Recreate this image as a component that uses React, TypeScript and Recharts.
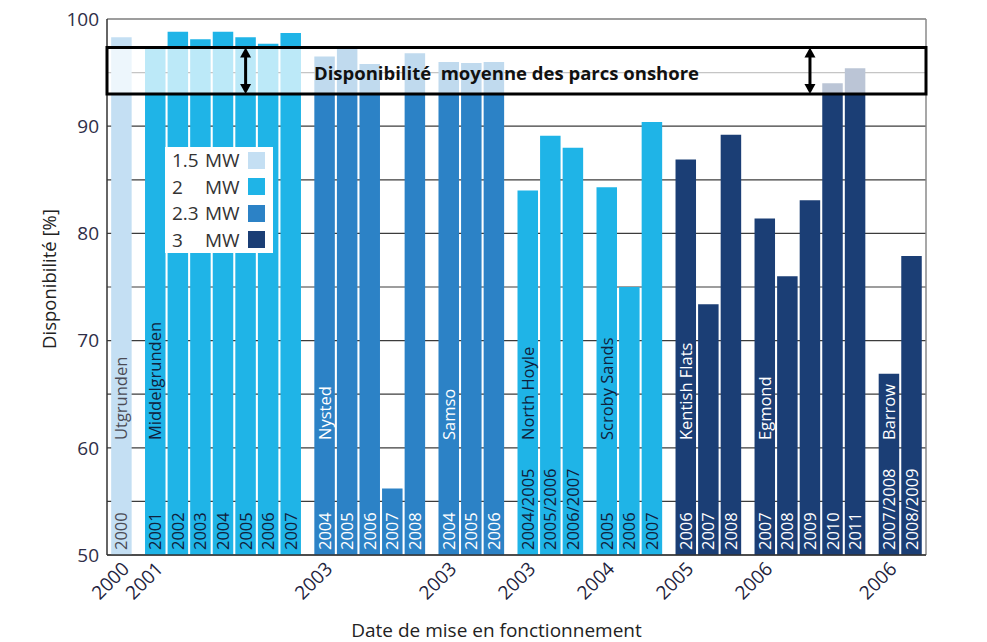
import {
  BarChart,
  Bar,
  XAxis,
  YAxis,
  CartesianGrid,
  Cell,
  LabelList,
  Legend,
  ReferenceArea,
  ReferenceLine,
} from 'recharts';

const FONT = '"Open Sans", "Noto Sans", sans-serif';

// offshore parks, in the order they are drawn
const parks = [
  'Utgrunden',
  'Middelgrunden',
  'Nysted',
  'Samso',
  'North Hoyle',
  'Scroby Sands',
  'Kentish Flats',
  'Egmond',
  'Barrow',
];
const startYears = ['2000', '2001', '2003', '2003', '2003', '2004', '2005', '2006', '2006'];
const parkCapacity = ['1.5', '2', '2.3', '2.3', '2', '2', '3', '3', '3'];
const operatingYears = [
  ['2000'],
  ['2001', '2002', '2003', '2004', '2005', '2006', '2007'],
  ['2004', '2005', '2006', '2007', '2008'],
  ['2004', '2005', '2006'],
  ['2004/2005', '2005/2006', '2006/2007'],
  ['2005', '2006', '2007'],
  ['2006', '2007', '2008'],
  ['2007', '2008', '2009', '2010', '2011'],
  ['2007/2008', '2008/2009'],
];
const availability = [
  [98.3],
  [97.3, 98.8, 98.1, 98.8, 98.3, 97.7, 98.7],
  [96.5, 97.2, 95.8, 56.2, 96.8],
  [96.0, 95.9, 96.0],
  [84.0, 89.1, 88.0],
  [84.3, 75.0, 90.4],
  [86.9, 73.4, 89.2],
  [81.4, 76.0, 83.1, 94.0, 95.4],
  [66.9, 77.9],
];

const capacities = ['1.5', '2', '2.3', '3'];
const capacityColors = ['#c4dff3', '#1fb4e7', '#2c82c6', '#1b3e75'];
const capacityTextColors = ['#4b4b55', '#10213d', '#ffffff', '#ffffff'];

const yTicks = [50, 55, 60, 65, 70, 75, 80, 85, 90, 95, 100];
const onshoreBand = [93, 97.35];
const arrowMarks = [
  ['Middelgrunden', '2005'],
  ['Egmond', '2009'],
];

// one slot per bar, half a slot between parks
const GROUP_GAP = 0.5;
type Row = {
  id: string;
  pos: number;
  park: string;
  year: string;
  value: number;
  cap: number;
  first: boolean;
};
const rows: Row[] = [];
const groupStarts: number[] = [];
const startLabel = new Map<number, string>();
{
  let pos = 0;
  parks.forEach((park, g) => {
    if (g > 0) pos += GROUP_GAP;
    groupStarts.push(pos);
    startLabel.set(pos, startYears[g]);
    operatingYears[g].forEach((year, i) => {
      rows.push({
        id: `${g}-${i}`,
        pos,
        park,
        year,
        value: availability[g][i],
        cap: capacities.indexOf(parkCapacity[g]),
        first: i === 0,
      });
      pos += 1;
    });
  });
}
const rowById = new Map(rows.map((r) => [r.id, r]));
const lastPos = rows[rows.length - 1].pos;
const X_MIN = -0.64;
const X_MAX = lastPos + 0.64;

const arrowPositions = arrowMarks.map(
  ([park, year]) => rows.find((r) => r.park === park && r.year === year)!.pos
);

const BarText = (props: any) => {
  const { x, y, width, height, value } = props;
  const row = rowById.get(value);
  if (!row) return null;
  const bx = x + width / 2 + 6;
  const bottom = y + height;
  const fill = capacityTextColors[row.cap];
  const yearY = bottom - 5;
  const nameY = bottom - 115;
  return (
    <g>
      <text
        x={bx}
        y={yearY}
        transform={`rotate(-90, ${bx}, ${yearY})`}
        fontSize={16.5}
        fontFamily={FONT}
        fill={fill}
      >
        {row.year}
      </text>
      {row.first && (
        <text
          x={bx}
          y={nameY}
          transform={`rotate(-90, ${bx}, ${nameY})`}
          fontSize={16.5}
          fontFamily={FONT}
          fill={fill}
        >
          {row.park}
        </text>
      )}
    </g>
  );
};

const StartTick = (props: any) => {
  const { x, y, payload } = props;
  const ax = x + 9;
  const ay = y + 7;
  return (
    <text
      x={ax}
      y={ay}
      textAnchor="end"
      transform={`rotate(-45, ${ax}, ${ay})`}
      fontSize={19}
      fontFamily={FONT}
      fill="#23233d"
    >
      {startLabel.get(payload.value)}
    </text>
  );
};

const DoubleArrow = (props: any) => {
  const { x1, y1, y2 } = props;
  const top = Math.min(y1, y2);
  const bot = Math.max(y1, y2);
  const head = 10;
  const hw = 5.5;
  return (
    <g>
      <line x1={x1} x2={x1} y1={top + head - 1} y2={bot - head + 1} stroke="#000" strokeWidth={3} />
      <path d={`M${x1},${top} L${x1 - hw},${top + head} L${x1 + hw},${top + head} Z`} fill="#000" />
      <path d={`M${x1},${bot} L${x1 - hw},${bot - head} L${x1 + hw},${bot - head} Z`} fill="#000" />
    </g>
  );
};

const CapacityLegend = () => (
  <div
    style={{
      background: '#fff',
      padding: '0 8px 0 7px',
      fontFamily: FONT,
      fontSize: 19,
      color: '#333',
      lineHeight: '26.5px',
    }}
  >
    {capacities.map((c, i) => (
      <div key={c} style={{ display: 'flex', alignItems: 'center' }}>
        <span style={{ width: 33 }}>{c}</span>
        <span style={{ width: 43 }}>MW</span>
        <span style={{ width: 17, height: 17, background: capacityColors[i] }} />
      </div>
    ))}
  </div>
);

const App = () => {
  return (
    <div style={{ position: 'absolute', left: 0, top: 0, background: '#fff' }}>
      <BarChart
        width={987}
        height={642}
        data={rows}
        margin={{ top: 19, right: 61, bottom: 0, left: 0 }}
      >
        <CartesianGrid vertical={false} stroke="#3c3c3c" strokeWidth={1.2} />
        <XAxis
          type="number"
          dataKey="pos"
          domain={[X_MIN, X_MAX]}
          ticks={groupStarts}
          interval={0}
          tick={<StartTick />}
          tickLine={false}
          axisLine={{ stroke: '#333', strokeWidth: 1.5 }}
          height={87}
          label={{
            content: (p: any) => {
              const vb = p.viewBox;
              return (
                <text
                  x={vb.x + vb.width / 2 - 20}
                  y={vb.y + 82}
                  textAnchor="middle"
                  fontSize={19}
                  fontFamily={FONT}
                  fill="#222"
                >
                  Date de mise en fonctionnement
                </text>
              );
            },
          }}
        />
        <YAxis
          type="number"
          domain={[50, 100]}
          ticks={yTicks}
          interval={0}
          tickFormatter={(v: number) => (v % 10 === 0 ? String(v) : '')}
          tick={{ fill: '#2e2e48', fontSize: 19, fontFamily: FONT }}
          tickLine={false}
          tickSize={6}
          axisLine={{ stroke: '#333', strokeWidth: 1.5 }}
          width={107}
          label={{
            content: (p: any) => {
              const vb = p.viewBox;
              const cx = 48;
              const cy = vb.y + vb.height / 2 - 8;
              return (
                <text
                  x={cx}
                  y={cy}
                  transform={`rotate(-90, ${cx}, ${cy})`}
                  textAnchor="middle"
                  dominantBaseline="central"
                  fontSize={18.5}
                  fontFamily={FONT}
                  fill="#222"
                >
                  Disponibilité [%]
                </text>
              );
            },
          }}
        />
        <Bar dataKey="value" barSize={20.5} isAnimationActive={false}>
          {rows.map((r) => (
            <Cell key={r.id} fill={capacityColors[r.cap]} />
          ))}
          <LabelList dataKey="id" content={<BarText />} />
        </Bar>
        <ReferenceLine x={X_MAX} stroke="#8a8a8a" strokeWidth={1.5} />
        <ReferenceArea
          y1={onshoreBand[0]}
          y2={onshoreBand[1]}
          fill="#ffffff"
          fillOpacity={0.7}
          stroke="#000"
          strokeWidth={3}
          zIndex={600}
          label={{
            content: (p: any) => {
              const vb = p.viewBox;
              return (
                <text
                  x={vb.x + vb.width / 2 - 10}
                  y={vb.y + vb.height / 2 + 2}
                  textAnchor="middle"
                  dominantBaseline="central"
                  fontSize={18.5}
                  fontWeight={700}
                  fontFamily={FONT}
                  fill="#111"
                  style={{ whiteSpace: 'pre' }}
                >
                  {'Disponibilité  moyenne des parcs onshore'}
                </text>
              );
            },
          }}
        />
        {arrowPositions.map((p) => (
          <ReferenceLine
            key={p}
            segment={[
              { x: p, y: onshoreBand[1] },
              { x: p, y: onshoreBand[0] },
            ]}
            shape={<DoubleArrow />}
            zIndex={700}
          />
        ))}
        <Legend
          layout="vertical"
          align="center"
          verticalAlign="middle"
          content={<CapacityLegend />}
          wrapperStyle={{ left: 165, top: 147, width: 'auto' }}
        />
      </BarChart>
    </div>
  );
};

export default App;
